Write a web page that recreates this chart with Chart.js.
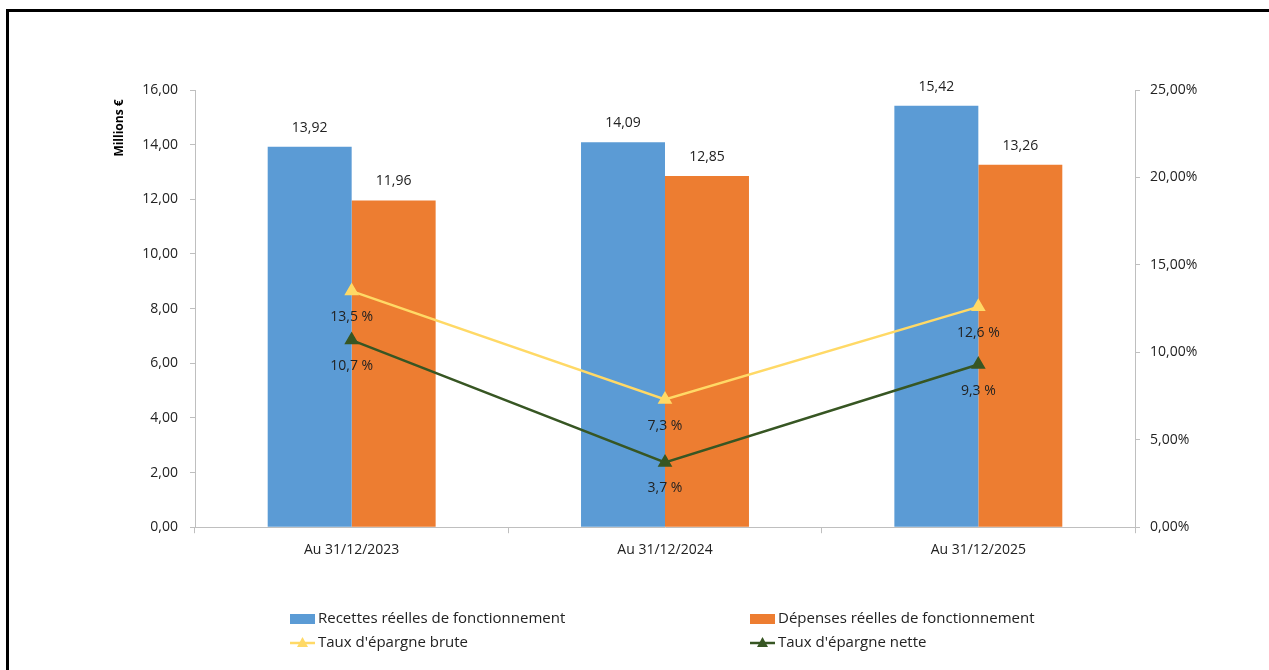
<!DOCTYPE html>
<html>
<head>
<meta charset="utf-8">
<script src="https://cdn.jsdelivr.net/npm/chart.js@4/dist/chart.umd.min.js"></script>
<style>
  html, body { margin: 0; padding: 0; background: #fff; overflow: hidden; }
  #frame { position: absolute; left: 6px; top: 9px; width: 1300px; height: 700px; border: 3px solid #000; }
  #wrap { position: absolute; left: 0; top: 0; width: 1269px; height: 670px; }
</style>
</head>
<body>
<div id="frame"></div>
<div id="wrap"><canvas id="epargneChart" width="1269" height="670"></canvas></div>
<script>
// categories
const periodes = ["Au 31/12/2023", "Au 31/12/2024", "Au 31/12/2025"];
// millions €
const recettes = [13.92, 14.09, 15.42];
const depenses = [11.96, 12.85, 13.26];
// %
const tauxBrute = [13.5, 7.3, 12.6];
const tauxNette = [10.7, 3.7, 9.3];

const FONT = "Open Sans";

function fr(v, d) {
  return v.toFixed(d).replace(".", ",");
}

// labels des valeurs + titre axe gauche
const valueLabels = {
  id: "valueLabels",
  afterDatasetsDraw(chart) {
    const ctx = chart.ctx;
    ctx.save();
    ctx.font = "14px " + FONT;
    ctx.fillStyle = "#222";
    ctx.textAlign = "center";
    ctx.textBaseline = "middle";
    chart.data.datasets.forEach((ds, i) => {
      const meta = chart.getDatasetMeta(i);
      meta.data.forEach((el, j) => {
        if (ds.type === "bar") {
          ctx.fillText(fr(ds.data[j], 2), el.x, el.y - 19);
        } else {
          ctx.fillText(fr(ds.data[j], 1) + " %", el.x, el.y + 26);
        }
      });
    });
    // titre "Millions €"
    ctx.translate(120, 128);
    ctx.rotate(-Math.PI / 2);
    ctx.font = "bold 12px " + FONT;
    ctx.fillStyle = "#000";
    ctx.fillText("Millions €", 0, 0);
    ctx.restore();
  }
};

// legende en 2 colonnes
const gridLegend = {
  id: "gridLegend",
  afterDraw(chart) {
    const ctx = chart.ctx;
    const cols = [290, 750];
    const rows = [619, 643];
    ctx.save();
    ctx.font = "15px " + FONT;
    ctx.textBaseline = "middle";
    ctx.textAlign = "left";
    chart.data.datasets.forEach((ds, i) => {
      const x = cols[i % 2];
      const y = rows[Math.floor(i / 2)];
      if (ds.type === "bar") {
        ctx.fillStyle = ds.backgroundColor;
        ctx.fillRect(x, y - 5, 25, 10);
      } else {
        ctx.strokeStyle = ds.borderColor;
        ctx.lineWidth = 2.5;
        ctx.beginPath();
        ctx.moveTo(x, y);
        ctx.lineTo(x + 25, y);
        ctx.stroke();
        ctx.fillStyle = ds.borderColor;
        ctx.beginPath();
        ctx.moveTo(x + 12.5, y - 6);
        ctx.lineTo(x + 18, y + 4);
        ctx.lineTo(x + 7, y + 4);
        ctx.closePath();
        ctx.fill();
      }
      ctx.fillStyle = "#222";
      ctx.fillText(ds.label, x + 28, y);
    });
    ctx.restore();
  }
};

const chart = new Chart(document.querySelector("#epargneChart"), {
  data: {
    labels: periodes,
    datasets: [
      {
        type: "bar",
        label: "Recettes réelles de fonctionnement",
        data: recettes,
        backgroundColor: "#5B9BD5",
        yAxisID: "y",
        order: 2,
        barPercentage: 1,
        categoryPercentage: 0.536
      },
      {
        type: "bar",
        label: "Dépenses réelles de fonctionnement",
        data: depenses,
        backgroundColor: "#ED7D31",
        yAxisID: "y",
        order: 2,
        barPercentage: 1,
        categoryPercentage: 0.536
      },
      {
        type: "line",
        label: "Taux d'épargne brute",
        data: tauxBrute,
        borderColor: "#FFD966",
        backgroundColor: "#FFD966",
        borderWidth: 2.5,
        pointStyle: "triangle",
        pointRadius: 6,
        yAxisID: "y1",
        order: 0
      },
      {
        type: "line",
        label: "Taux d'épargne nette",
        data: tauxNette,
        borderColor: "#375623",
        backgroundColor: "#375623",
        borderWidth: 2.5,
        pointStyle: "triangle",
        pointRadius: 6,
        yAxisID: "y1",
        order: 1
      }
    ]
  },
  options: {
    responsive: false,
    animation: false,
    layout: { padding: { left: 110, right: 40, top: 90, bottom: 104 } },
    plugins: {
      legend: { display: false },
      tooltip: { enabled: false }
    },
    scales: {
      x: {
        grid: { drawOnChartArea: false, color: "#bfbfbf", tickLength: 6 },
        border: { color: "#bfbfbf" },
        ticks: { color: "#222", font: { family: FONT, size: 14 }, padding: 8 }
      },
      y: {
        position: "left",
        min: 0,
        max: 16,
        ticks: {
          stepSize: 2,
          color: "#222",
          font: { family: FONT, size: 14 },
          padding: 12,
          callback: (v) => fr(v, 2)
        },
        grid: { drawOnChartArea: false, color: "#bfbfbf", tickLength: 5 },
        border: { color: "#bfbfbf" },
        afterFit(scale) { scale.width = 85; }
      },
      y1: {
        position: "right",
        min: 0,
        max: 25,
        ticks: {
          stepSize: 5,
          color: "#222",
          font: { family: FONT, size: 14 },
          padding: 10,
          callback: (v) => fr(v, 2) + "%"
        },
        grid: { drawOnChartArea: false, color: "#bfbfbf", tickLength: 5 },
        border: { color: "#bfbfbf" },
        afterFit(scale) { scale.width = 94; }
      }
    }
  },
  plugins: [valueLabels, gridLegend]
});
</script>
</body>
</html>
